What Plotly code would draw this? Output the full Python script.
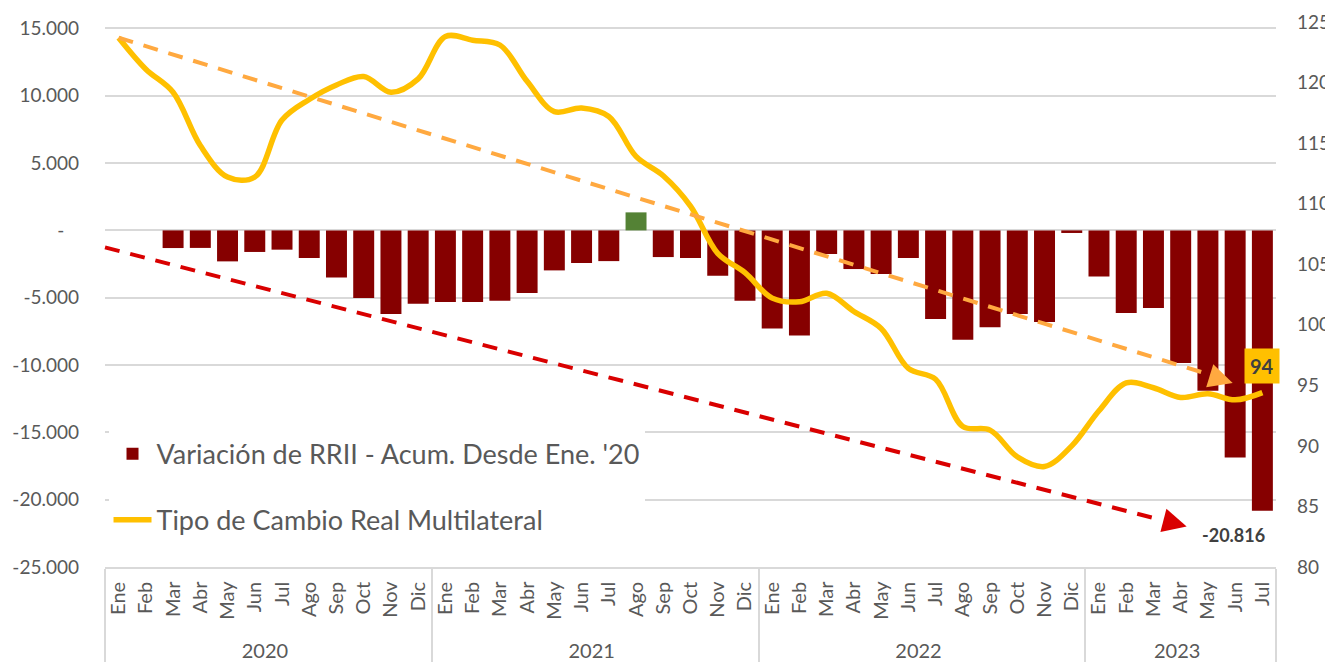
import plotly.graph_objects as go

# ---------------- data ----------------
years = ["2020", "2021", "2022", "2023"]
months_per_year = [12, 12, 12, 7]
month_names = ["Ene", "Feb", "Mar", "Abr", "May", "Jun", "Jul", "Ago", "Sep", "Oct", "Nov", "Dic"]

# Variación de RRII - acumulada desde Ene. '20 (millones USD)
rrii = [
    0, 0, -1310, -1300, -2300, -1600, -1430, -2050, -3490, -5020, -6210, -5450,
    -5320, -5320, -5220, -4650, -2970, -2420, -2280, 1340, -1980, -2050, -3370, -5220,
    -7280, -7800, -1750, -2870, -3240, -2050, -6580, -8120, -7200, -6210, -6810, -190,
    -3420, -6140, -5770, -9850, -11910, -16860, -20816,
]

# Tipo de Cambio Real Multilateral (índice)
tcrm = [
    123.7, 121.1, 119.2, 114.8, 112.2, 112.2, 116.9, 118.6, 119.8, 120.5, 119.2, 120.3,
    123.8, 123.5, 123.1, 120.1, 117.6, 117.9, 117.2, 113.9, 112.3, 109.8, 105.9, 104.3,
    102.2, 101.9, 102.6, 101.1, 99.7, 96.4, 95.5, 91.6, 91.3, 89.1, 88.3, 90.0,
    92.9, 95.2, 94.8, 94.0, 94.3, 93.8, 94.4,
]

y_tick_vals = [-25000, -20000, -15000, -10000, -5000, 0, 5000, 10000, 15000]
y_tick_text = ["-25.000", "-20.000", "-15.000", "-10.000", "-5.000", "-\u00a0\u00a0\u00a0", "5.000", "10.000", "15.000"]
y2_tick_vals = [80, 85, 90, 95, 100, 105, 110, 115, 120, 125]

name_rrii = "Variación de RRII - Acum. Desde Ene. '20"
name_tcrm = "Tipo de Cambio Real Multilateral"

# ---------------- build categories ----------------
PAD = "\u00a0"  # small gap between axis line and rotated month labels
x_year, x_month = [], []
for yr, n in zip(years, months_per_year):
    x_year += [yr] * n
    x_month += [m + PAD for m in month_names[:n]]
n_cat = len(x_month)

BAR_NEG = "#860000"
BAR_POS = "#548235"
LINE_C = "#FFC000"
ORANGE = "#FFA940"
RED = "#D90000"
GRID = "#D9D9D9"
TXT = "#595959"
FONT = "Lato, 'Open Sans', sans-serif"

bar_colors = [BAR_POS if v > 0 else BAR_NEG for v in rrii]

fig = go.Figure()
fig.add_trace(go.Bar(
    x=[x_year, x_month], y=rrii, name=name_rrii,
    marker=dict(color=bar_colors, line=dict(width=0)),
    legendgroup="a", yaxis="y",
))
fig.add_trace(go.Scatter(
    x=[x_year, x_month], y=tcrm, name=name_tcrm, mode="lines",
    line=dict(color=LINE_C, width=5.5, shape="spline", smoothing=1.0),
    legendgroup="b", yaxis="y2",
))

# ---------------- trend arrows ----------------
def cat_paper(i):
    return (i + 0.5) / n_cat

# orange trend (right axis)
o_tip = (0.9630, 95.2)
o_end = (0.9394, 96.0)
fig.add_shape(type="line", xref="paper", yref="y2",
              x0=cat_paper(0), y0=tcrm[0], x1=o_end[0], y1=o_end[1],
              line=dict(color=ORANGE, width=4, dash="15px,11px"))
fig.add_annotation(xref="paper", yref="y2", x=o_tip[0], y=o_tip[1], text="",
                   showarrow=True, ax=-24, ay=-7.4, arrowhead=2, arrowsize=1.6,
                   arrowwidth=3, arrowcolor=ORANGE)

# red trend (left axis)
r_tip = (0.9237, -21990)
r_end = (0.895, -21345)
fig.add_shape(type="line", xref="paper", yref="y",
              x0=0.0, y0=-1263, x1=r_end[0], y1=r_end[1],
              line=dict(color=RED, width=4, dash="15px,11px"))
fig.add_annotation(xref="paper", yref="y", x=r_tip[0], y=r_tip[1], text="",
                   showarrow=True, ax=-24, ay=-6.2, arrowhead=2, arrowsize=1.6,
                   arrowwidth=3, arrowcolor=RED)

# value labels
fig.add_annotation(xref="paper", yref="y2", x=cat_paper(n_cat - 1), y=96.6,
                   xanchor="center", yanchor="middle",
                   text=f"<b>{round(tcrm[-1])}</b>", showarrow=False,
                   bgcolor=LINE_C, borderpad=5,
                   font=dict(family=FONT, size=20, color="#404040"))
last_txt = f"{rrii[-1]:,}".replace(",", ".")
fig.add_annotation(xref="paper", yref="y", x=0.9641, y=-22607,
                   xanchor="center", yanchor="middle",
                   text=f"<b>{last_txt}</b>", showarrow=False,
                   font=dict(family=FONT, size=18, color="#404040"))

# page body has an 8px margin -> figure is sized/offset to compensate
fig.update_layout(
    width=1325, height=654,
    margin=dict(l=97, r=57, t=14, b=95),
    paper_bgcolor="white", plot_bgcolor="white",
    font=dict(family=FONT, size=19, color=TXT),
    bargap=0.23,
    showlegend=True,
    legend=dict(
        x=0.003, y=0.252, xanchor="left", yanchor="top",
        bgcolor="white", borderwidth=0,
        font=dict(family=FONT, size=27, color=TXT),
        traceorder="grouped", tracegroupgap=28, itemwidth=38,
    ),
    xaxis=dict(
        type="multicategory",
        tickangle=-90,
        showline=True, linecolor=GRID, linewidth=1.5,
        showdividers=True, dividercolor=GRID, dividerwidth=1.5,
        ticks="",
        tickfont=dict(family=FONT, size=20, color=TXT),
        automargin=False,
    ),
    yaxis=dict(
        range=[-25000, 15480],
        tickvals=y_tick_vals, ticktext=y_tick_text,
        showgrid=True, gridcolor=GRID, gridwidth=1.5,
        zeroline=False, ticks="", ticklabelstandoff=25,
        tickfont=dict(family=FONT, size=19, color=TXT),
        automargin=False,
    ),
    yaxis2=dict(
        overlaying="y", side="right",
        range=[80, 125],
        tickvals=y2_tick_vals,
        showgrid=False, zeroline=False, ticks="", ticklabelstandoff=20,
        tickfont=dict(family=FONT, size=19, color=TXT),
        automargin=False,
    ),
)

fig.write_html("out.html")
